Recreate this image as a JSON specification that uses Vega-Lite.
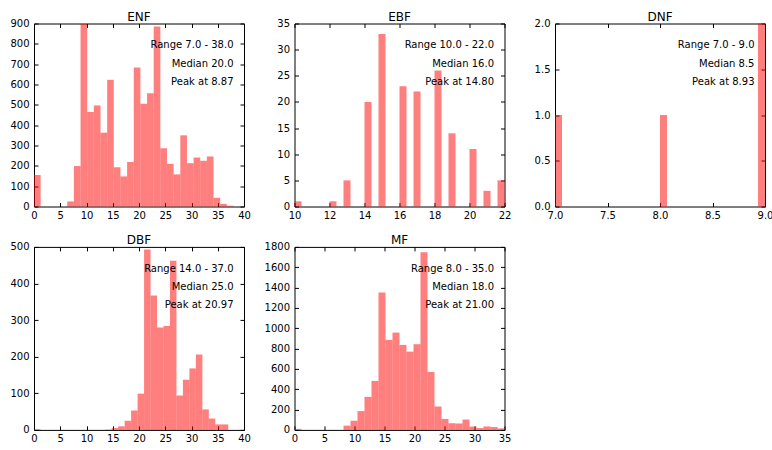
{
  "$schema": "https://vega.github.io/schema/vega-lite/v6.json",
  "background": "white",
  "padding": {"left": 9, "top": 9.5, "right": 0, "bottom": 0},
  "config": {
    "font": "DejaVu Sans",
    "view": {"stroke": "black", "strokeWidth": 1},
    "axis": {
      "domain": false,
      "grid": false,
      "ticks": true,
      "tickSize": -4,
      "tickColor": "black",
      "tickWidth": 1,
      "labelFont": "DejaVu Sans",
      "labelFontSize": 10,
      "labelColor": "black",
      "labelFlush": false,
      "labelOverlap": false
    },
    "axisBottom": {"labelPadding": 8},
    "axisLeft": {"labelPadding": 9},
    "axisTop": {"labelPadding": 0, "minExtent": 0},
    "axisRight": {"labelPadding": 0, "minExtent": 0},
    "title": {"fontSize": 12, "fontWeight": "normal", "color": "black", "font": "DejaVu Sans", "baseline": "alphabetic", "offset": -5, "anchor": "middle"},
    "text": {"font": "DejaVu Sans", "fontSize": 10, "color": "black"},
    "rect": {"color": "#ff0000", "opacity": 0.5}
  },
  "datasets": {
    "ENF": [
      {"start": 0, "end": 1.2667, "count": 155},
      {"start": 1.2667, "end": 2.5333, "count": 0},
      {"start": 2.5333, "end": 3.8, "count": 0},
      {"start": 3.8, "end": 5.0667, "count": 0},
      {"start": 5.0667, "end": 6.3333, "count": 0},
      {"start": 6.3333, "end": 7.6, "count": 25},
      {"start": 7.6, "end": 8.8667, "count": 199},
      {"start": 8.8667, "end": 10.1333, "count": 898},
      {"start": 10.1333, "end": 11.4, "count": 465},
      {"start": 11.4, "end": 12.6667, "count": 497},
      {"start": 12.6667, "end": 13.9333, "count": 363},
      {"start": 13.9333, "end": 15.2, "count": 623},
      {"start": 15.2, "end": 16.4667, "count": 193},
      {"start": 16.4667, "end": 17.7333, "count": 148},
      {"start": 17.7333, "end": 19, "count": 219},
      {"start": 19, "end": 20.2667, "count": 684},
      {"start": 20.2667, "end": 21.5333, "count": 505},
      {"start": 21.5333, "end": 22.8, "count": 557},
      {"start": 22.8, "end": 24.0667, "count": 885},
      {"start": 24.0667, "end": 25.3333, "count": 286},
      {"start": 25.3333, "end": 26.6, "count": 210},
      {"start": 26.6, "end": 27.8667, "count": 158},
      {"start": 27.8667, "end": 29.1333, "count": 350},
      {"start": 29.1333, "end": 30.4, "count": 213},
      {"start": 30.4, "end": 31.6667, "count": 241},
      {"start": 31.6667, "end": 32.9333, "count": 225},
      {"start": 32.9333, "end": 34.2, "count": 246},
      {"start": 34.2, "end": 35.4667, "count": 43},
      {"start": 35.4667, "end": 36.7333, "count": 13},
      {"start": 36.7333, "end": 38, "count": 4}
    ],
    "EBF": [
      {"start": 10, "end": 10.4, "count": 1},
      {"start": 12, "end": 12.4, "count": 1},
      {"start": 12.8, "end": 13.2, "count": 5},
      {"start": 14, "end": 14.4, "count": 20},
      {"start": 14.8, "end": 15.2, "count": 33},
      {"start": 16, "end": 16.4, "count": 23},
      {"start": 16.8, "end": 17.2, "count": 22},
      {"start": 18, "end": 18.4, "count": 26},
      {"start": 18.8, "end": 19.2, "count": 14},
      {"start": 20, "end": 20.4, "count": 11},
      {"start": 20.8, "end": 21.2, "count": 3},
      {"start": 21.6, "end": 22, "count": 5}
    ],
    "DNF": [
      {"start": 7, "end": 7.0667, "count": 1},
      {"start": 8, "end": 8.0667, "count": 1},
      {"start": 8.9333, "end": 9, "count": 2}
    ],
    "DBF": [
      {"start": 0, "end": 1.2333, "count": 2},
      {"start": 1.2333, "end": 2.4667, "count": 0},
      {"start": 2.4667, "end": 3.7, "count": 0},
      {"start": 3.7, "end": 4.9333, "count": 0},
      {"start": 4.9333, "end": 6.1667, "count": 0},
      {"start": 6.1667, "end": 7.4, "count": 0},
      {"start": 7.4, "end": 8.6333, "count": 0},
      {"start": 8.6333, "end": 9.8667, "count": 0},
      {"start": 9.8667, "end": 11.1, "count": 0},
      {"start": 11.1, "end": 12.3333, "count": 0},
      {"start": 12.3333, "end": 13.5667, "count": 0},
      {"start": 13.5667, "end": 14.8, "count": 1},
      {"start": 14.8, "end": 16.0333, "count": 5},
      {"start": 16.0333, "end": 17.2667, "count": 10},
      {"start": 17.2667, "end": 18.5, "count": 25},
      {"start": 18.5, "end": 19.7333, "count": 53},
      {"start": 19.7333, "end": 20.9667, "count": 99},
      {"start": 20.9667, "end": 22.2, "count": 493},
      {"start": 22.2, "end": 23.4333, "count": 367},
      {"start": 23.4333, "end": 24.6667, "count": 280},
      {"start": 24.6667, "end": 25.9, "count": 284},
      {"start": 25.9, "end": 27.1333, "count": 462},
      {"start": 27.1333, "end": 28.3667, "count": 94},
      {"start": 28.3667, "end": 29.6, "count": 137},
      {"start": 29.6, "end": 30.8333, "count": 168},
      {"start": 30.8333, "end": 32.0667, "count": 206},
      {"start": 32.0667, "end": 33.3, "count": 56},
      {"start": 33.3, "end": 34.5333, "count": 31},
      {"start": 34.5333, "end": 35.7667, "count": 15},
      {"start": 35.7667, "end": 37, "count": 15}
    ],
    "MF": [
      {"start": 0, "end": 1.1667, "count": 10},
      {"start": 1.1667, "end": 2.3333, "count": 0},
      {"start": 2.3333, "end": 3.5, "count": 0},
      {"start": 3.5, "end": 4.6667, "count": 0},
      {"start": 4.6667, "end": 5.8333, "count": 0},
      {"start": 5.8333, "end": 7, "count": 0},
      {"start": 7, "end": 8.1667, "count": 0},
      {"start": 8.1667, "end": 9.3333, "count": 42},
      {"start": 9.3333, "end": 10.5, "count": 90},
      {"start": 10.5, "end": 11.6667, "count": 185},
      {"start": 11.6667, "end": 12.8333, "count": 325},
      {"start": 12.8333, "end": 14, "count": 482},
      {"start": 14, "end": 15.1667, "count": 1351},
      {"start": 15.1667, "end": 16.3333, "count": 885},
      {"start": 16.3333, "end": 17.5, "count": 957},
      {"start": 17.5, "end": 18.6667, "count": 836},
      {"start": 18.6667, "end": 19.8333, "count": 770},
      {"start": 19.8333, "end": 21, "count": 843},
      {"start": 21, "end": 22.1667, "count": 1748},
      {"start": 22.1667, "end": 23.3333, "count": 570},
      {"start": 23.3333, "end": 24.5, "count": 230},
      {"start": 24.5, "end": 25.6667, "count": 108},
      {"start": 25.6667, "end": 26.8333, "count": 66},
      {"start": 26.8333, "end": 28, "count": 63},
      {"start": 28, "end": 29.1667, "count": 102},
      {"start": 29.1667, "end": 30.3333, "count": 33},
      {"start": 30.3333, "end": 31.5, "count": 18},
      {"start": 31.5, "end": 32.6667, "count": 34},
      {"start": 32.6667, "end": 33.8333, "count": 28},
      {"start": 33.8333, "end": 35, "count": 15}
    ]
  },
  "columns": 3,
  "bounds": "flush",
  "spacing": {"row": 40.4, "column": 50.5},
  "concat": [
    {
      "title": "ENF",
      "width": 210,
      "height": 183,
      "layer": [
        {
          "data": {"name": "ENF"},
          "mark": "rect",
          "encoding": {
            "x": {"field": "start", "type": "quantitative", "title": null, "scale": {"domain": [0, 40], "nice": false, "zero": false}, "axis": {"values": [0, 5, 10, 15, 20, 25, 30, 35, 40]}},
            "x2": {"field": "end"},
            "y": {"field": "count", "type": "quantitative", "title": null, "scale": {"domain": [0, 900], "nice": false}, "axis": {"values": [0, 100, 200, 300, 400, 500, 600, 700, 800, 900], "format": "d"}},
            "y2": {"datum": 0}
          }
        },
        {
          "data": {"values": [{"lines": ["Range 7.0 - 38.0", "Median 20.0", "Peak at 8.87"]}]},
          "mark": {"type": "text", "align": "right", "baseline": "middle", "lineHeight": 18.3, "dy": 3.5},
          "encoding": {
            "x": {"datum": 38, "type": "quantitative", "scale": {"domain": [0, 40], "nice": false, "zero": false}, "axis": {"orient": "top", "labels": false, "title": null, "values": [0, 5, 10, 15, 20, 25, 30, 35, 40]}},
            "y": {"datum": 810, "type": "quantitative", "scale": {"domain": [0, 900], "nice": false}, "axis": {"orient": "right", "labels": false, "title": null, "values": [0, 100, 200, 300, 400, 500, 600, 700, 800, 900]}},
            "text": {"field": "lines", "type": "nominal"}
          }
        }
      ],
      "resolve": {"axis": {"x": "independent", "y": "independent"}}
    },
    {
      "title": "EBF",
      "width": 210,
      "height": 183,
      "layer": [
        {
          "data": {"name": "EBF"},
          "mark": "rect",
          "encoding": {
            "x": {"field": "start", "type": "quantitative", "title": null, "scale": {"domain": [10, 22], "nice": false, "zero": false}, "axis": {"values": [10, 12, 14, 16, 18, 20, 22]}},
            "x2": {"field": "end"},
            "y": {"field": "count", "type": "quantitative", "title": null, "scale": {"domain": [0, 35], "nice": false}, "axis": {"values": [0, 5, 10, 15, 20, 25, 30, 35], "format": "d"}},
            "y2": {"datum": 0}
          }
        },
        {
          "data": {"values": [{"lines": ["Range 10.0 - 22.0", "Median 16.0", "Peak at 14.80"]}]},
          "mark": {"type": "text", "align": "right", "baseline": "middle", "lineHeight": 18.3, "dy": 3.5},
          "encoding": {
            "x": {"datum": 21.4, "type": "quantitative", "scale": {"domain": [10, 22], "nice": false, "zero": false}, "axis": {"orient": "top", "labels": false, "title": null, "values": [10, 12, 14, 16, 18, 20, 22]}},
            "y": {"datum": 31.5, "type": "quantitative", "scale": {"domain": [0, 35], "nice": false}, "axis": {"orient": "right", "labels": false, "title": null, "values": [0, 5, 10, 15, 20, 25, 30, 35]}},
            "text": {"field": "lines", "type": "nominal"}
          }
        }
      ],
      "resolve": {"axis": {"x": "independent", "y": "independent"}}
    },
    {
      "title": "DNF",
      "width": 210,
      "height": 183,
      "layer": [
        {
          "data": {"name": "DNF"},
          "mark": "rect",
          "encoding": {
            "x": {"field": "start", "type": "quantitative", "title": null, "scale": {"domain": [7, 9], "nice": false, "zero": false}, "axis": {"values": [7, 7.5, 8, 8.5, 9], "format": ".1f"}},
            "x2": {"field": "end"},
            "y": {"field": "count", "type": "quantitative", "title": null, "scale": {"domain": [0, 2], "nice": false}, "axis": {"values": [0, 0.5, 1, 1.5, 2], "format": ".1f"}},
            "y2": {"datum": 0}
          }
        },
        {
          "data": {"values": [{"lines": ["Range 7.0 - 9.0", "Median 8.5", "Peak at 8.93"]}]},
          "mark": {"type": "text", "align": "right", "baseline": "middle", "lineHeight": 18.3, "dy": 3.5},
          "encoding": {
            "x": {"datum": 8.9, "type": "quantitative", "scale": {"domain": [7, 9], "nice": false, "zero": false}, "axis": {"orient": "top", "labels": false, "title": null, "values": [7, 7.5, 8, 8.5, 9]}},
            "y": {"datum": 1.8, "type": "quantitative", "scale": {"domain": [0, 2], "nice": false}, "axis": {"orient": "right", "labels": false, "title": null, "values": [0, 0.5, 1, 1.5, 2]}},
            "text": {"field": "lines", "type": "nominal"}
          }
        }
      ],
      "resolve": {"axis": {"x": "independent", "y": "independent"}}
    },
    {
      "title": "DBF",
      "width": 210,
      "height": 183,
      "layer": [
        {
          "data": {"name": "DBF"},
          "mark": "rect",
          "encoding": {
            "x": {"field": "start", "type": "quantitative", "title": null, "scale": {"domain": [0, 40], "nice": false, "zero": false}, "axis": {"values": [0, 5, 10, 15, 20, 25, 30, 35, 40]}},
            "x2": {"field": "end"},
            "y": {"field": "count", "type": "quantitative", "title": null, "scale": {"domain": [0, 500], "nice": false}, "axis": {"values": [0, 100, 200, 300, 400, 500], "format": "d"}},
            "y2": {"datum": 0}
          }
        },
        {
          "data": {"values": [{"lines": ["Range 14.0 - 37.0", "Median 25.0", "Peak at 20.97"]}]},
          "mark": {"type": "text", "align": "right", "baseline": "middle", "lineHeight": 18.3, "dy": 3.5},
          "encoding": {
            "x": {"datum": 38, "type": "quantitative", "scale": {"domain": [0, 40], "nice": false, "zero": false}, "axis": {"orient": "top", "labels": false, "title": null, "values": [0, 5, 10, 15, 20, 25, 30, 35, 40]}},
            "y": {"datum": 450, "type": "quantitative", "scale": {"domain": [0, 500], "nice": false}, "axis": {"orient": "right", "labels": false, "title": null, "values": [0, 100, 200, 300, 400, 500]}},
            "text": {"field": "lines", "type": "nominal"}
          }
        }
      ],
      "resolve": {"axis": {"x": "independent", "y": "independent"}}
    },
    {
      "title": "MF",
      "width": 210,
      "height": 183,
      "layer": [
        {
          "data": {"name": "MF"},
          "mark": "rect",
          "encoding": {
            "x": {"field": "start", "type": "quantitative", "title": null, "scale": {"domain": [0, 35], "nice": false, "zero": false}, "axis": {"values": [0, 5, 10, 15, 20, 25, 30, 35]}},
            "x2": {"field": "end"},
            "y": {"field": "count", "type": "quantitative", "title": null, "scale": {"domain": [0, 1800], "nice": false}, "axis": {"values": [0, 200, 400, 600, 800, 1000, 1200, 1400, 1600, 1800], "format": "d"}},
            "y2": {"datum": 0}
          }
        },
        {
          "data": {"values": [{"lines": ["Range 8.0 - 35.0", "Median 18.0", "Peak at 21.00"]}]},
          "mark": {"type": "text", "align": "right", "baseline": "middle", "lineHeight": 18.3, "dy": 3.5},
          "encoding": {
            "x": {"datum": 33.25, "type": "quantitative", "scale": {"domain": [0, 35], "nice": false, "zero": false}, "axis": {"orient": "top", "labels": false, "title": null, "values": [0, 5, 10, 15, 20, 25, 30, 35]}},
            "y": {"datum": 1620, "type": "quantitative", "scale": {"domain": [0, 1800], "nice": false}, "axis": {"orient": "right", "labels": false, "title": null, "values": [0, 200, 400, 600, 800, 1000, 1200, 1400, 1600, 1800]}},
            "text": {"field": "lines", "type": "nominal"}
          }
        }
      ],
      "resolve": {"axis": {"x": "independent", "y": "independent"}}
    }
  ]
}
